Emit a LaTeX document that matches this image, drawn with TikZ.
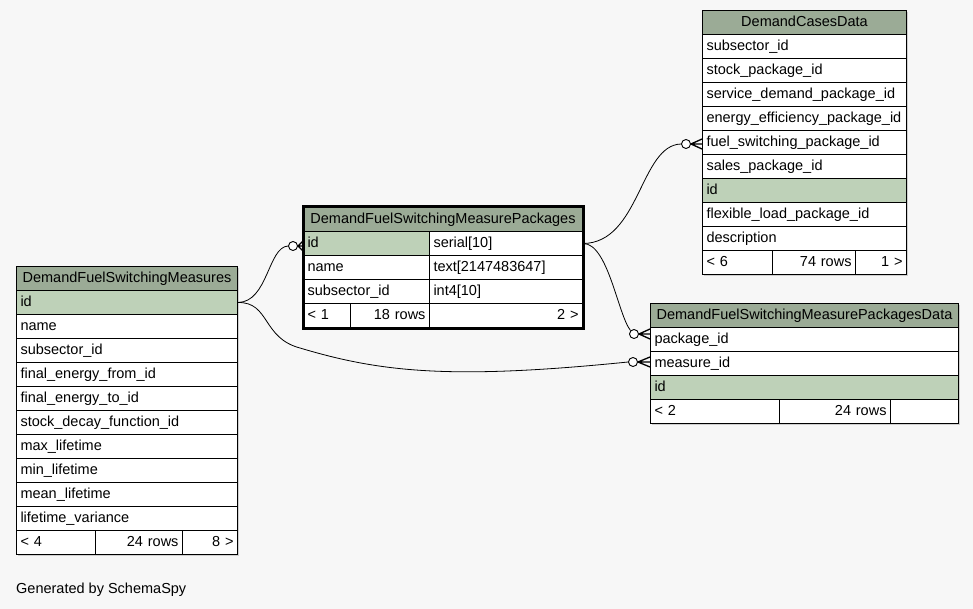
\documentclass[tikz,border=0pt]{standalone}
\usepackage{fontspec}
\setmainfont{Liberation Sans}
\usetikzlibrary{calc}

\definecolor{bgcol}{HTML}{F7F7F7}
\definecolor{headcol}{HTML}{9BAB96}
\definecolor{keycol}{HTML}{BED1B8}
\definecolor{shadowcol}{HTML}{CFCFCF}

% one table cell: name, left x, top y, width, extra style, text
\newcommand\dbcell[6]{%
  \pgfmathsetmacro\dbtw{#4-8}%
  \node[cell,text width=\dbtw pt,#5] (#1) at (#2,#3) {#6};}
% soft drop shadow behind a table: left x, top y, width, height
\newcommand\dbshadow[4]{%
  \fill[shadowcol] (#1+2,#2+2) rectangle (#1+#3+2,#2+#4+2);}

\tikzset{
  cell/.style={draw=black, line width=1pt, fill=white, anchor=north west,
    inner xsep=4pt, inner ysep=0pt, minimum height=24pt,
    text height=10.5pt, text depth=3pt, align=left,
    font=\fontsize{14.5}{17}\selectfont},
  head/.style={fill=headcol, align=center},
  key/.style={fill=keycol},
  rt/.style={align=right},
  conn/.style={draw=black, line width=0.8pt},
  crow/.style={draw=black, line width=1.3pt},
  circ/.style={circle, draw=black, line width=0.9pt, fill=white,
    minimum size=9pt, inner sep=0pt},
}

\begin{document}
\begin{tikzpicture}[x=1pt,y=1pt,yscale=-1]
\useasboundingbox[fill=bgcol] (0,0) rectangle (973,609);

% shadows
\dbshadow{702}{10}{204}{264}
\dbshadow{303}{207}{279}{120}
\dbshadow{16}{266}{221}{288}
\dbshadow{650}{303}{308}{120}

% DemandCasesData
\dbcell{cd-h}{702}{10}{204}{head}{DemandCasesData}
\dbcell{cd-r1}{702}{34}{204}{}{subsector\_id}
\dbcell{cd-r2}{702}{58}{204}{}{stock\_package\_id}
\dbcell{cd-r3}{702}{82}{204}{}{service\_demand\_package\_id}
\dbcell{cd-r4}{702}{106}{204}{}{energy\_efficiency\_package\_id}
\dbcell{cd-r5}{702}{130}{204}{}{fuel\_switching\_package\_id}
\dbcell{cd-r6}{702}{154}{204}{}{sales\_package\_id}
\dbcell{cd-r7}{702}{178}{204}{key}{id}
\dbcell{cd-r8}{702}{202}{204}{}{flexible\_load\_package\_id}
\dbcell{cd-r9}{702}{226}{204}{}{description}
\dbcell{cd-f1}{702}{250}{70}{}{< 6}
\dbcell{cd-f2}{772}{250}{83}{rt}{74 rows}
\dbcell{cd-f3}{855}{250}{51}{rt}{1 >}

% DemandFuelSwitchingMeasurePackages
\dbcell{pk-h}{303}{207}{279}{head}{DemandFuelSwitchingMeasurePackages}
\dbcell{pk-k1}{303}{231}{126}{key}{id}
\dbcell{pk-t1}{429}{231}{153}{}{serial[10]}
\dbcell{pk-k2}{303}{255}{126}{}{name}
\dbcell{pk-t2}{429}{255}{153}{}{text[2147483647]}
\dbcell{pk-k3}{303}{279}{126}{}{subsector\_id}
\dbcell{pk-t3}{429}{279}{153}{}{int4[10]}
\dbcell{pk-f1}{303}{303}{47}{}{< 1}
\dbcell{pk-f2}{350}{303}{79}{rt}{18 rows}
\dbcell{pk-f3}{429}{303}{153}{rt}{2 >}
\draw[line width=3pt] (pk-h.north west) rectangle (pk-f3.south east);

% DemandFuelSwitchingMeasures
\dbcell{ms-h}{16}{266}{221}{head}{DemandFuelSwitchingMeasures}
\dbcell{ms-r1}{16}{290}{221}{key}{id}
\dbcell{ms-r2}{16}{314}{221}{}{name}
\dbcell{ms-r3}{16}{338}{221}{}{subsector\_id}
\dbcell{ms-r4}{16}{362}{221}{}{final\_energy\_from\_id}
\dbcell{ms-r5}{16}{386}{221}{}{final\_energy\_to\_id}
\dbcell{ms-r6}{16}{410}{221}{}{stock\_decay\_function\_id}
\dbcell{ms-r7}{16}{434}{221}{}{max\_lifetime}
\dbcell{ms-r8}{16}{458}{221}{}{min\_lifetime}
\dbcell{ms-r9}{16}{482}{221}{}{mean\_lifetime}
\dbcell{ms-r10}{16}{506}{221}{}{lifetime\_variance}
\dbcell{ms-f1}{16}{530}{79}{}{< 4}
\dbcell{ms-f2}{95}{530}{87}{rt}{24 rows}
\dbcell{ms-f3}{182}{530}{55}{rt}{8 >}

% DemandFuelSwitchingMeasurePackagesData
\dbcell{pd-h}{650}{303}{308}{head}{DemandFuelSwitchingMeasurePackagesData}
\dbcell{pd-r1}{650}{327}{308}{}{package\_id}
\dbcell{pd-r2}{650}{351}{308}{}{measure\_id}
\dbcell{pd-r3}{650}{375}{308}{key}{id}
\dbcell{pd-f1}{650}{399}{129}{}{< 2}
\dbcell{pd-f2}{779}{399}{111}{rt}{24 rows}
\dbcell{pd-f3}{890}{399}{68}{rt}{}

% relationships: optional-many ends
\node[circ] (o1) at (686,144) {};
\node[circ] (o2) at (634,334) {};
\node[circ] (o3) at (293,246) {};
\node[circ] (o4) at (633,362) {};

\draw[conn] (pk-t1.east) .. controls (640,243) and (640,145) .. (o1.west);
\draw[conn] (pk-t1.east) .. controls (608,243) and (618,315) .. (o2.135);
\draw[conn] (ms-r1.east) .. controls (268,302) and (268,247) .. (o3.west);
\draw[conn] (ms-r1.east) .. controls (270,302) and (262,338) .. (300,348)
  .. controls (380,372) and (450,380) .. (o4.west);

% crow's feet
\foreach \o/\t in {o1/cd-r5, o2/pd-r1, o3/pk-k1, o4/pd-r2} {
  \draw[crow] (\o.east) -- ($(\t.west |- \o)+(0,-5)$)
              (\o.east) -- (\t.west |- \o)
              (\o.east) -- ($(\t.west |- \o)+(0,5)$);
}

\node[anchor=base west, inner sep=0pt, font=\fontsize{14.5}{17}\selectfont]
  (gen) at (16,593) {Generated by SchemaSpy};
\end{tikzpicture}
\end{document}
